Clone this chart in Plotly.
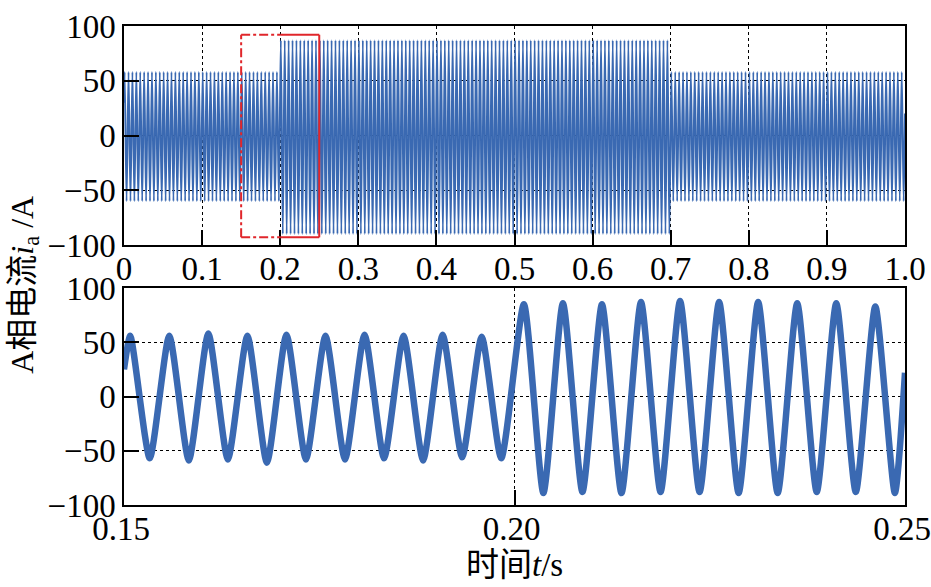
import plotly.graph_objects as go

# ---------------- data ----------------
freq_hz = 200                      # fundamental frequency of the phase-A current
period = 1.0 / freq_hz

# top panel: whole 0..1 s run, amplitude envelope per load segment
top_seg_start = [0.0, 0.2, 0.7]
top_seg_end = [0.2, 0.7, 1.0]
top_seg_peak = [58, 87, 58]
top_seg_trough = [-60, -90, -60]
top_first_peak = 0.0008
top_start_value = 30
top_end_value = 20

# bottom panel: zoom 0.15..0.25 s, per-cycle peaks / troughs
bot_first_peak_pre = 0.1508
bot_first_peak_post = 0.2012
peaks_pre = [56, 56, 58, 56, 57, 56, 57, 56, 57, 55]
troughs_pre = [-57, -59, -58, -61, -58, -58, -57, -59, -56, -57]
peaks_post = [85, 86, 85, 87, 88, 87, 87, 86, 86, 83]
troughs_post = [-89, -88, -89, -88, -88, -89, -89, -88, -88, -89]
bot_start = (0.15, 25)
bot_end = (0.25, 22)

zoom_window = [0.15, 0.25]
zoom_box_y = [-93, 92]
step_time = 0.2

top_xticks = [0, 0.1, 0.2, 0.3, 0.4, 0.5, 0.6, 0.7, 0.8, 0.9, 1.0]
top_xticklabels = ["0", "0.1", "0.2", "0.3", "0.4", "0.5", "0.6", "0.7", "0.8", "0.9", "1.0"]
bot_xticks = [0.15, 0.20, 0.25]
bot_xticklabels = ["0.15", "0.20", "0.25"]
yticks = [-100, -50, 0, 50, 100]

# ---------------- build extrema sequences ----------------
top_t = [0.0]
top_v = [top_start_value]
k = 0
while True:
    t = top_first_peak + k * period / 2
    if t >= 1.0:
        break
    seg = 0
    for i in range(len(top_seg_start)):
        if top_seg_start[i] <= t < top_seg_end[i]:
            seg = i
    top_t.append(t)
    top_v.append(top_seg_peak[seg] if k % 2 == 0 else top_seg_trough[seg])
    k += 1
top_t.append(1.0)
top_v.append(top_end_value)

bot_t = [bot_start[0]]
bot_v = [bot_start[1]]
for i in range(len(peaks_pre)):
    bot_t += [bot_first_peak_pre + i * period, bot_first_peak_pre + i * period + period / 2]
    bot_v += [peaks_pre[i], troughs_pre[i]]
for i in range(len(peaks_post)):
    bot_t += [bot_first_peak_post + i * period, bot_first_peak_post + i * period + period / 2]
    bot_v += [peaks_post[i], troughs_post[i]]
bot_t.append(bot_end[0])
bot_v.append(bot_end[1])

# ---------------- figure ----------------
blue = "#3a69b2"
font_fam = "Liberation Serif, Times New Roman, Noto Sans CJK SC, serif"

fig = go.Figure()
fig.add_trace(go.Scatter(x=top_t, y=top_v, mode="lines",
                         line=dict(color=blue, width=1.9, shape="spline", smoothing=0.8),
                         xaxis="x", yaxis="y", showlegend=False, hoverinfo="skip"))
fig.add_trace(go.Scatter(x=bot_t, y=bot_v, mode="lines",
                         line=dict(color=blue, width=6.5, shape="spline", smoothing=0.6),
                         xaxis="x2", yaxis="y2", showlegend=False, hoverinfo="skip"))

axis_common = dict(showline=True, linecolor="black", linewidth=1.5, mirror=True,
                   ticks="inside", ticklen=15, tickwidth=1.5, tickcolor="black",
                   showgrid=True, gridcolor="black", gridwidth=1, griddash="dot",
                   zeroline=False, automargin=False, ticklabeloverflow="allow",
                   tickfont=dict(family=font_fam, size=33, color="black"))

fig.update_layout(
    width=931, height=587,
    margin=dict(l=124, r=26, t=26, b=82),
    paper_bgcolor="white", plot_bgcolor="white",
    xaxis=dict(domain=[0, 1], anchor="y", range=[0, 1.0],
               tickmode="array", tickvals=top_xticks, ticktext=top_xticklabels,
               ticklabelstandoff=-6, **axis_common),
    yaxis=dict(domain=[0.5428, 1.0], anchor="x", range=[-100, 100],
               tickmode="array", tickvals=yticks, **axis_common),
    xaxis2=dict(domain=[0, 1], anchor="y2", range=[0.15, 0.25],
                tickmode="array", tickvals=bot_xticks, ticktext=bot_xticklabels,
                ticklabelstandoff=-6, ticklabelshift=-3, **axis_common),
    yaxis2=dict(domain=[0, 0.453], anchor="x2", range=[-100, 100],
                tickmode="array", tickvals=yticks, **axis_common),
)

red = "#e0262b"
# solid part of the zoom box (after the step)
fig.add_shape(type="line", xref="x", yref="y", x0=step_time, x1=zoom_window[1],
              y0=zoom_box_y[1], y1=zoom_box_y[1], line=dict(color=red, width=2))
fig.add_shape(type="line", xref="x", yref="y", x0=zoom_window[1], x1=zoom_window[1],
              y0=zoom_box_y[0], y1=zoom_box_y[1], line=dict(color=red, width=2))
fig.add_shape(type="line", xref="x", yref="y", x0=step_time, x1=zoom_window[1],
              y0=zoom_box_y[0], y1=zoom_box_y[0], line=dict(color=red, width=2))
# dash-dot part (before the step)
fig.add_shape(type="line", xref="x", yref="y", x0=zoom_window[0], x1=step_time,
              y0=zoom_box_y[1], y1=zoom_box_y[1], line=dict(color=red, width=2, dash="dashdot"))
fig.add_shape(type="line", xref="x", yref="y", x0=zoom_window[0], x1=zoom_window[0],
              y0=zoom_box_y[0], y1=zoom_box_y[1], line=dict(color=red, width=2, dash="dashdot"))
fig.add_shape(type="line", xref="x", yref="y", x0=zoom_window[0], x1=step_time,
              y0=zoom_box_y[0], y1=zoom_box_y[0], line=dict(color=red, width=2, dash="dashdot"))

fig.add_annotation(text="A相电流<i>i</i><sub>a</sub> /A", xref="paper", yref="paper",
                   x=-0.1285, y=0.459, textangle=-90, showarrow=False,
                   xanchor="center", yanchor="middle",
                   font=dict(family=font_fam, size=32, color="black"))
fig.add_annotation(text="时间<i>t</i>/s", xref="paper", yref="paper",
                   x=0.5, y=-0.125, showarrow=False,
                   xanchor="center", yanchor="middle",
                   font=dict(family=font_fam, size=33, color="black"))

fig.write_html("out.html", config={"displayModeBar": False},
               post_script="document.body.style.margin='0px';document.body.style.overflow='hidden';")
